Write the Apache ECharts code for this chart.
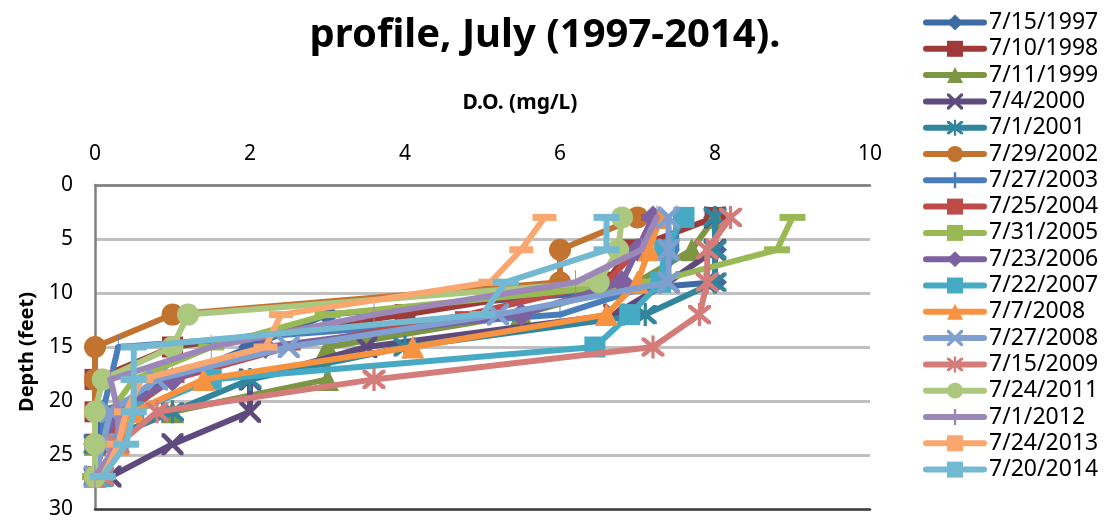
<!DOCTYPE html>
<html><head><meta charset="utf-8">
<script src="https://cdn.jsdelivr.net/npm/echarts@6/dist/echarts.min.js"></script>
<style>html,body{margin:0;padding:0;background:#fff}#c{width:1106px;height:521px}</style>
</head><body><div id="c"></div>
<script>
const depths = [3, 6, 9, 12, 15, 18, 21, 24, 27];
const seriesNames = ['7/15/1997','7/10/1998','7/11/1999','7/4/2000','7/1/2001','7/29/2002','7/27/2003','7/25/2004','7/31/2005','7/23/2006','7/22/2007','7/7/2008','7/27/2008','7/15/2009','7/24/2011','7/1/2012','7/24/2013','7/20/2014'];
const do1997 = [8.0, 8.0, 8.0, 3.0, 2.0, 1.0, 0.1, 0.0, 0.0];
const do1998 = [8.0, 6.9, 6.6, 4.0, 1.0, 0.0, 0.0, 0.0, 0.0];
const do1999 = [8.0, 7.7, 7.0, 5.5, 3.0, 3.0, 1.0, 0.0, 0.0];
const do2000 = [8.0, 8.0, 7.4, 6.7, 3.5, 2.0, 2.0, 1.0, 0.2];
const do2001 = [8.0, 8.0, 8.0, 7.1, 4.0, 2.0, 1.0, 0.0, 0.0];
const do2002 = [7.0, 6.0, 6.0, 1.0, 0.0, 0.0, 0.0, 0.0, 0.0];
const do2003 = [7.5, 7.5, 7.3, 6.0, 0.3, 0.2, 0.1, 0.1, 0.0];
const do2004 = [7.2, 7.0, 6.6, 4.8, 2.5, 1.0, 0.4, 0.1, 0.0];
const do2005 = [9.0, 8.8, 7.2, 3.0, 1.5, 0.5, 0.2, 0.1, 0.0];
const do2006 = [7.2, 7.0, 6.8, 5.5, 2.2, 1.0, 0.3, 0.1, 0.0];
const do2007 = [7.6, 7.35, 7.3, 6.9, 6.45, 1.5, 0.5, 0.3, 0.1];
const do2008a = [7.3, 7.15, 7.0, 6.6, 4.1, 1.4, 0.5, 0.3, 0.0];
const do2008b = [7.4, 7.4, 7.4, 5.2, 2.5, 0.8, 0.2, 0.1, 0.0];
const do2009 = [8.2, 7.9, 7.9, 7.8, 7.2, 3.6, 0.8, 0.3, 0.1];
const do2011 = [6.8, 6.75, 6.5, 1.2, 1.0, 0.1, 0.0, 0.0, 0.0];
const do2012 = [7.25, 7.05, 6.2, 3.6, 1.5, 0.2, 0.3, 0.3, 0.0];
const do2013 = [5.8, 5.5, 5.1, 2.4, 2.2, 0.6, 0.4, 0.3, 0.1];
const do2014 = [6.6, 6.6, 5.3, 5.0, 0.5, 0.5, 0.5, 0.4, 0.1];
const xTicks = [0, 2, 4, 6, 8, 10];
const yTicks = [0, 5, 10, 15, 20, 25, 30];

const allData = [do1997,do1998,do1999,do2000,do2001,do2002,do2003,do2004,do2005,do2006,do2007,do2008a,do2008b,do2009,do2011,do2012,do2013,do2014];
const colors = ['#3E6BA3','#9E3B38','#7C9644','#5F4A7D','#31859C','#C2732F','#4A7EBB','#BE4B48','#98B954','#7D60A0','#46AAC5','#F69240','#7F9FD0','#D37C7A','#ACC77E','#9C87B9','#F9A76F','#74B9D2'];
const X = 'path://M0,0 L3,0 L10,7 L17,0 L20,0 L20,3 L13,10 L20,17 L20,20 L17,20 L10,13 L3,20 L0,20 L0,17 L7,10 L0,3 Z';
const STAR = 'path://M0,0 L3,0 L10,7 L17,0 L20,0 L20,3 L13,10 L20,17 L20,20 L17,20 L10,13 L3,20 L0,20 L0,17 L7,10 L0,3 Z M8.6,-2 L11.4,-2 L11.4,22 L8.6,22 Z';
const PLUS = 'path://M8.5,0 L11.5,0 L11.5,20 L8.5,20 Z M0,8.5 L20,8.5 L20,11.5 L0,11.5 Z';
const DASH = 'path://M0,0 L20,0 L20,5 L0,5 Z';
const symbols = ['diamond','rect','triangle',X,STAR,'circle',PLUS,DASH,DASH,'diamond','rect','triangle',X,STAR,'circle',PLUS,DASH,DASH];
const sizes = [24,21,23,22,23,22,[6,24],[24,7],[26,7],24,21,23,22,23,22,[6,24],[24,7],[26,7]];

const chart = echarts.init(document.getElementById('c'));
const FONT = 'Noto Sans';
chart.setOption({
  animation: false,
  backgroundColor: '#fff',
  textStyle: { fontFamily: FONT },
  graphic: [
    { type: 'text', x: 545, y: 36, style: { text: 'profile, July (1997-2014).', font: 'bold 40px "Noto Sans"', fill: '#000', align: 'center', verticalAlign: 'middle' } },
    { type: 'text', x: 520, y: 103, style: { text: 'D.O. (mg/L)', font: 'bold 21px "Noto Sans"', fill: '#000', align: 'center', verticalAlign: 'middle' } },
    { type: 'text', x: 27, y: 352, rotation: Math.PI / 2, style: { text: 'Depth (feet)', font: 'bold 20px "Noto Sans"', fill: '#000', align: 'center', verticalAlign: 'middle' } }
  ],
  legend: {
    orient: 'vertical', left: 918, top: 6,
    itemWidth: 58, itemHeight: 20, itemGap: 3.3,
    lineStyle: { width: 6, cap: 'round' },
    textStyle: { fontSize: 23, color: '#000', fontFamily: FONT, lineHeight: 23 },
    data: seriesNames
  },
  grid: { left: 95, right: 236, top: 185, bottom: 12 },
  xAxis: [{
    type: 'value', position: 'top', min: 0, max: 10, interval: 2,
    axisLine: { show: true, lineStyle: { color: '#7f7f7f', width: 2.5 } },
    axisTick: { show: false }, splitLine: { show: false },
    axisLabel: { fontSize: 21, color: '#000', margin: 20, formatter: v => xTicks.includes(v) ? String(v) : '' }
  }, {
    type: 'value', position: 'bottom', min: 0, max: 10,
    axisLine: { show: true, onZero: false, lineStyle: { color: '#404040', width: 2.5 } },
    axisTick: { show: false }, axisLabel: { show: false }, splitLine: { show: false }
  }],
  yAxis: {
    type: 'value', inverse: true, min: 0, max: 30, interval: 5,
    axisLine: { show: true, lineStyle: { color: '#7f7f7f', width: 2.5 } },
    axisTick: { show: false },
    splitLine: { show: true, lineStyle: { color: '#c0c0c0', width: 3 } },
    axisLabel: { fontSize: 21, color: '#000', margin: 22, formatter: v => yTicks.includes(v) ? String(v) : '' }
  },
  series: seriesNames.map((n, i) => ({
    name: n, type: 'line', xAxisIndex: 0,
    data: allData[i].map((v, k) => [v, depths[k]]),
    symbol: symbols[i], symbolSize: sizes[i], showSymbol: true,
    color: colors[i],
    lineStyle: { width: 6, color: colors[i], cap: 'round', join: 'round' },
    itemStyle: { color: colors[i] },
    z: 2 + i
  }))
});
</script></body></html>
